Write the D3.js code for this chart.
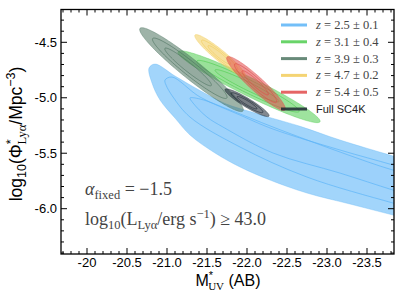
<!DOCTYPE html>
<html>
<head>
<meta charset="utf-8">
<script src="https://cdn.jsdelivr.net/npm/d3@7/dist/d3.min.js"></script>
<style>
  body { margin: 0; background: #fff; }
  text { font-family: "Liberation Sans", Arial, sans-serif; }
  .serif { font-family: "Liberation Serif", "DejaVu Serif", serif; }
</style>
</head>
<body>
<svg width="404" height="303"></svg>
<script>
// axis ticks
var xTicks = [-20, -20.5, -21, -21.5, -22, -22.5, -23, -23.5];
var xTickLabels = ["-20", "-20.5", "-21.0", "-21.5", "-22.0", "-22.5", "-23.0", "-23.5"];
var yTicks = [-4.5, -5, -5.5, -6];
var yTickLabels = ["-4.5", "-5.0", "-5.5", "-6.0"];

// samples, legend order
var zMid = [2.5, 3.1, 3.9, 4.7, 5.4];
var zErr = [0.1, 0.4, 0.3, 0.2, 0.5];
var colors = ["#5ab4f7", "#4fcc4f", "#4e7561", "#f2cd5c", "#e04a4a", "#1c2733"];

// z=2.5 contours (curved, run off the right edge): [M_UV*, log Phi*]
var blueOuter = [[-20.775,-4.732],[-20.85,-4.696],[-21.1,-4.804],[-21.4125,-4.935],[-21.725,-5.052],
  [-22.0375,-5.124],[-22.325,-5.186],[-22.6625,-5.257],[-23.1625,-5.381],[-23.825,-5.525],[-24.2875,-5.624],
  [-24.2875,-6.138],[-23.825,-6.057],[-23.2875,-5.958],[-22.75,-5.859],[-22.2875,-5.742],[-21.9125,-5.624],
  [-21.6,-5.498],[-21.2875,-5.336],[-21.1,-5.183],[-20.9125,-5.02],[-20.8125,-4.867]];
var blueMid = [[-20.975,-4.84],[-21.0625,-4.813],[-21.4125,-4.993],[-21.9125,-5.156],[-22.325,-5.282],
  [-23.1625,-5.471],[-23.825,-5.606],[-24.2875,-5.706],[-24.2875,-6.039],[-23.825,-5.949],[-22.75,-5.715],
  [-21.9125,-5.444],[-21.2875,-5.174],[-21.075,-4.993],[-20.9875,-4.885]];
var blueInner = [[-21.2875,-5.002],[-21.4125,-5.011],[-21.7875,-5.11],[-22.325,-5.264],[-23.1625,-5.489],
  [-23.825,-5.652],[-24.2875,-5.733],[-24.2875,-5.931],[-23.825,-5.832],[-23.1625,-5.679],[-22.325,-5.498],
  [-21.7,-5.264],[-21.5,-5.174],[-21.325,-5.047]];

// other samples: elongated contours given by their two tips and an axis ratio
// order: z=3.1, z=3.9, z=4.7, z=5.4, Full SC4K
var tipAM   = [-21.1375, -20.6625, -21.35,  -21.75,  -21.725];
var tipAPhi = [-4.585,   -4.374,   -4.434,  -4.633,  -4.924];
var tipBM   = [-22.9125, -21.95,   -21.975, -22.475, -22.275];
var tipBPhi = [-5.216,   -5.119,   -4.804,  -5.110,  -5.165];
var axisRatio = [0.115, 0.145, 0.17, 0.18, 0.17];
var levelScale = [1, 0.72, 0.45];
var levelShift = [0.05, 0.12, 0.05, 0.05, 0.0];

var svg = d3.select("svg");
var m = {left: 61, right: 394, top: 9.5, bottom: 254};

var x = d3.scaleLinear().domain([-19.675, -23.8375]).range([m.left, m.right]);
var y = d3.scaleLinear().domain([-6.4085, -4.2042]).range([m.bottom, m.top]);

svg.append("clipPath").attr("id", "plot")
  .append("rect").attr("x", m.left).attr("y", m.top)
  .attr("width", m.right - m.left).attr("height", m.bottom - m.top);

var view = svg.append("g").attr("clip-path", "url(#plot)");

// blue contours
var curve = d3.line()
  .x(function(d) { return x(d[0]); })
  .y(function(d) { return y(d[1]); })
  .curve(d3.curveCatmullRomClosed.alpha(0.5));

[blueOuter, blueMid, blueInner].forEach(function(lev, i) {
  view.append("path")
    .attr("d", curve(lev))
    .attr("fill", colors[0])
    .attr("fill-opacity", i == 0 ? 0.56 : 0.04)
    .attr("stroke", colors[0])
    .attr("stroke-opacity", i == 0 ? 0.4 : 0.85)
    .attr("stroke-width", 0.8);
});

// ellipse outline in pixel space from the tips in data space
function ellipse(k, s) {
  var ax = x(tipAM[k]), ay = y(tipAPhi[k]);
  var bx = x(tipBM[k]), by = y(tipBPhi[k]);
  var cx = (ax + bx) / 2, cy = (ay + by) / 2;
  var a = Math.hypot(bx - ax, by - ay) / 2;
  var ux = (bx - ax) / (2 * a), uy = (by - ay) / (2 * a);
  var b = axisRatio[k] * a;
  var shift = levelShift[k] * (1 - s) * a;
  cx -= ux * shift; cy -= uy * shift;
  var pts = d3.range(0, 2 * Math.PI, Math.PI / 60).map(function(t) {
    var p = s * a * Math.cos(t), q = s * b * Math.sin(t);
    return [cx + p * ux - q * uy, cy + p * uy + q * ux];
  });
  return d3.line().curve(d3.curveLinearClosed)(pts);
}

tipAM.forEach(function(d, k) {
  var col = colors[k + 1];
  levelScale.forEach(function(s, i) {
    view.append("path")
      .attr("d", ellipse(k, s))
      .attr("fill", col)
      .attr("fill-opacity", i == 0 ? 0.55 : 0.06)
      .attr("stroke", col)
      .attr("stroke-opacity", i == 0 ? 0.5 : 0.8)
      .attr("stroke-width", 0.8);
  });
});

// frame + ticks on all sides, pointing inward
svg.append("rect").attr("x", m.left).attr("y", m.top)
  .attr("width", m.right - m.left).attr("height", m.bottom - m.top)
  .attr("fill", "none").attr("stroke", "#000").attr("stroke-width", 1.3);

var xMinor = d3.range(-19.7, -23.85, -0.1);
var yMinor = d3.range(-4.3, -6.45, -0.1);
var ticks = svg.append("g").attr("stroke", "#000").attr("stroke-width", 1);

xMinor.forEach(function(v) {
  var big = xTicks.some(function(t) { return Math.abs(t - v) < 1e-6; });
  var L = big ? 6 : 3;
  ticks.append("line").attr("x1", x(v)).attr("x2", x(v)).attr("y1", m.bottom).attr("y2", m.bottom - L);
  ticks.append("line").attr("x1", x(v)).attr("x2", x(v)).attr("y1", m.top).attr("y2", m.top + L);
});
yMinor.forEach(function(v) {
  var big = yTicks.some(function(t) { return Math.abs(t - v) < 1e-6; });
  var L = big ? 6 : 3;
  ticks.append("line").attr("y1", y(v)).attr("y2", y(v)).attr("x1", m.left).attr("x2", m.left + L);
  ticks.append("line").attr("y1", y(v)).attr("y2", y(v)).attr("x1", m.right).attr("x2", m.right - L);
});

svg.append("g").selectAll("text").data(xTicks).enter().append("text")
  .attr("x", function(d) { return x(d); })
  .attr("y", 267)
  .attr("text-anchor", "middle")
  .attr("font-size", 13)
  .text(function(d, i) { return xTickLabels[i]; });

svg.append("g").selectAll("text").data(yTicks).enter().append("text")
  .attr("x", 57)
  .attr("y", function(d) { return y(d) + 4.5; })
  .attr("text-anchor", "end")
  .attr("font-size", 13)
  .text(function(d, i) { return yTickLabels[i]; });

// axis labels
var xl = svg.append("text").attr("x", 228).attr("y", 286).attr("text-anchor", "middle").attr("font-size", 16);
xl.append("tspan").text("M");
xl.append("tspan").attr("font-size", 11).attr("dy", -7).text("*");
xl.append("tspan").attr("class", "serif").attr("font-size", 11).attr("dx", -5).attr("dy", 11).text("UV");
xl.append("tspan").attr("dy", -4).text(" (AB)");

var yl = svg.append("text").attr("transform", "translate(22,134) rotate(-90)")
  .attr("text-anchor", "middle").attr("font-size", 17.5);
yl.append("tspan").text("log");
yl.append("tspan").attr("font-size", 12.5).attr("dy", 4).text("10");
yl.append("tspan").attr("dy", -4).text("(Φ");
yl.append("tspan").attr("font-size", 12.5).attr("dy", -7).text("*");
yl.append("tspan").attr("class", "serif").attr("font-size", 12.5).attr("dx", -5).attr("dy", 11).text("Lyα");
yl.append("tspan").attr("dy", -4).text("/Mpc");
yl.append("tspan").attr("font-size", 12.5).attr("dy", -7).text("−3");
yl.append("tspan").attr("dy", 7).text(")");

// annotations
var a1 = svg.append("text").attr("class", "serif").attr("x", 85).attr("y", 195)
  .attr("font-size", 18).attr("fill", "#444");
a1.append("tspan").attr("font-style", "italic").text("α");
a1.append("tspan").attr("font-size", 12.5).attr("dy", 4).text("fixed");
a1.append("tspan").attr("dy", -4).text(" = −1.5");

var a2 = svg.append("text").attr("class", "serif").attr("x", 85).attr("y", 225)
  .attr("font-size", 18).attr("fill", "#444");
a2.append("tspan").text("log");
a2.append("tspan").attr("font-size", 12.5).attr("dy", 4).text("10");
a2.append("tspan").attr("dy", -4).text("(L");
a2.append("tspan").attr("font-size", 12.5).attr("dy", 4).text("Lyα");
a2.append("tspan").attr("dy", -4).text("/erg s");
a2.append("tspan").attr("font-size", 12.5).attr("dy", -7).text("−1");
a2.append("tspan").attr("dy", 7).text(") ≥ 43.0");

// legend
var legend = svg.append("g").attr("class", "legend");
colors.forEach(function(c, i) {
  var ly = 25 + i * 16.8;
  legend.append("line").attr("x1", 281).attr("x2", 307).attr("y1", ly).attr("y2", ly)
    .attr("stroke", c).attr("stroke-width", 3).attr("stroke-opacity", 0.85);
  var t = legend.append("text").attr("x", 316).attr("y", ly + 4).attr("fill", "#444");
  if (i < zMid.length) {
    t.attr("class", "serif").attr("font-size", 12.5);
    t.append("tspan").attr("font-style", "italic").text("z");
    t.append("tspan").text(" = " + zMid[i].toFixed(1) + " ± " + zErr[i].toFixed(1));
  } else {
    t.attr("font-size", 11).attr("fill", "#222").text("Full SC4K");
  }
});
</script>
</body>
</html>
